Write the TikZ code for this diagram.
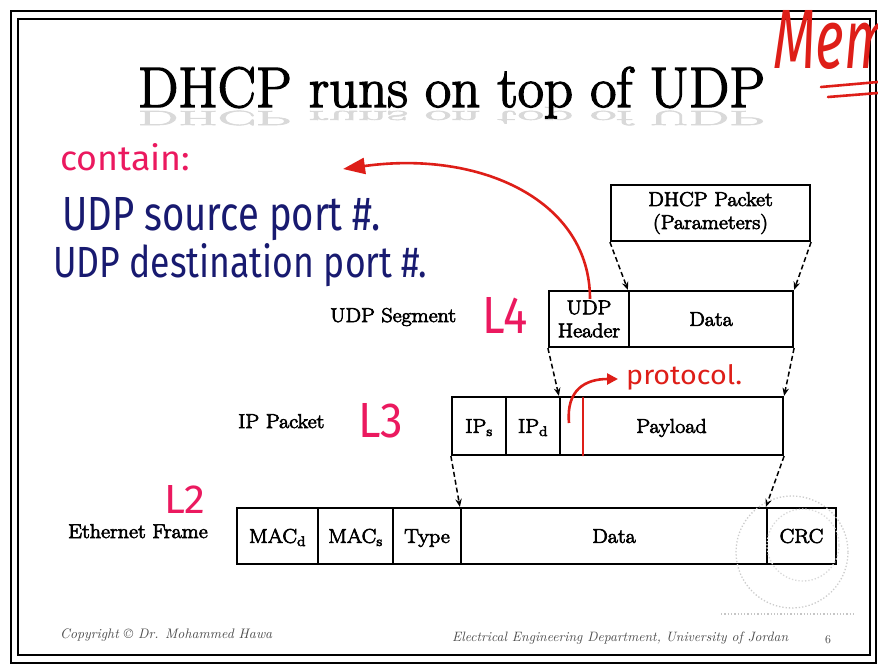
\documentclass[tikz,border=0pt]{standalone}
\usepackage{fontspec}
\newfontfamily\hand{Fira Sans}
\newfontfamily\slide{Latin Modern Roman}[FakeBold=3.5, FakeStretch=1.1]
\newfontfamily\slidetitle{Latin Modern Roman}[FakeBold=2.5]
\usetikzlibrary{arrows.meta,calc}
\definecolor{inkred}{RGB}{222,30,24}
\definecolor{inkpink}{RGB}{235,25,95}
\definecolor{inkblue}{RGB}{24,26,112}
\newcommand\lbl{\slide\fontsize{20}{23}\selectfont}

\begin{document}
\begin{tikzpicture}[x=1pt,y=-1pt,
  cell/.style={draw, line width=2.2pt, inner sep=0pt, text height=13.7pt, text depth=0pt,
               font=\lbl, minimum height=56pt},
  cellmulti/.style={draw, line width=2.2pt, inner sep=0pt, align=center, font=\lbl,
               minimum height=56pt},
  rowname/.style={anchor=base west, inner sep=0pt, font=\lbl},
  wrapto/.style={line width=1.5pt, dash pattern=on 5pt off 3pt,
               -{Stealth[length=8pt,width=6.5pt]}},
  handnote/.style={anchor=base west, inner sep=0pt},
  redpen/.style={inkred, line width=2.6pt, line cap=round},
]
\useasboundingbox (0,0) rectangle (878,667);
\fill[white] (0,0) rectangle (878,667);

% slide frame (double rule)
\draw[line width=2.6pt] (11,11) rectangle (876,663);
\draw[line width=1.6pt] (18,19) rectangle (870,655);

% title and its faint mirrored show-through
\node[anchor=base, inner sep=0pt, gray!30, yscale=-0.36, transform shape] at (451.5,111)
  {\resizebox{627pt}{!}{\slidetitle\fontsize{52}{60}\selectfont DHCP runs on top of UDP}};
\node[anchor=base, inner sep=0pt] (title) at (451.5,107)
  {\resizebox{627pt}{!}{\slidetitle\fontsize{52}{60}\selectfont DHCP runs on top of UDP}};

% DHCP packet
\node[cellmulti, minimum width=199pt] (dhcp) at (710.5,213)
  {\baselineskip=24pt DHCP Packet\\(Parameters)};

% UDP segment
\node[cellmulti, minimum width=80pt] (udph) at (589,319) {\baselineskip=22pt UDP\\Header};
\node[cell, minimum width=164pt] (udpdata) at (711,319) {Data};

% IP packet
\node[cell, minimum width=54pt, minimum height=58pt] (ips) at (479,426) {IP\textsubscript{s}};
\node[cell, minimum width=54pt, minimum height=58pt] (ipd) at (533,426) {IP\textsubscript{d}};
\node[cell, minimum width=223pt, minimum height=58pt] (payload) at (671.5,426) {Payload};

% Ethernet frame
\node[cell, minimum width=81pt] (macd) at (277.5,536) {MAC\textsubscript{d}};
\node[cell, minimum width=75pt] (macs) at (355.5,536) {MAC\textsubscript{s}};
\node[cell, minimum width=68pt] (type) at (427,536) {Type};
\node[cell, minimum width=306pt] (ethdata) at (614,536) {Data};
\node[cell, minimum width=69pt] (crc) at (801.5,536) {CRC};

% row names
\node[rowname] (segname) at (330,322) {UDP Segment};
\node[rowname] (pktname) at (238,428) {IP Packet};
\node[rowname] (framename) at (68,538) {Ethernet Frame};

% encapsulation arrows
\draw[wrapto] (dhcp.south west) -- (udpdata.north west);
\draw[wrapto] (dhcp.south east) -- (udpdata.north east);
\draw[wrapto] (udph.south west) -- (payload.north west);
\draw[wrapto] (udpdata.south east) -- (payload.north east);
\draw[wrapto] (ips.south west) -- (ethdata.north west);
\draw[wrapto] (payload.south east) -- (crc.north west);

% faint dotted logo
\draw[gray!40, line width=1.3pt, dotted] (792,552) circle[radius=56pt];
\draw[gray!30, line width=1.3pt, dotted] (803,545) circle[radius=36pt];
\draw[gray!45, line width=1.3pt, dotted] (721,614) -- (856,614);

% footer
\node[anchor=base west, inner sep=0pt, black!70] (copy) at (60,638)
  {\resizebox{212pt}{!}{\itshape Copyright \textcopyright{} Dr. Mohammed Hawa}};
\node[anchor=base west, inner sep=0pt, black!70] (dept) at (452,641)
  {\resizebox{336pt}{!}{\itshape Electrical Engineering Department, University of Jordan}};
\node[anchor=base, inner sep=0pt, black!75, font=\fontsize{12}{14}\selectfont] (pageno) at (828,643) {6};

% handwritten notes
\node[handnote, inkpink] (contain) at (60,170) {\resizebox{130pt}{27pt}{\hand contain:}};
\node[handnote, inkblue] (srcport) at (62,230) {\resizebox{318pt}{33pt}{\hand UDP source port \#.}};
\node[handnote, inkblue] (dstport) at (53,277) {\resizebox{374pt}{34pt}{\hand UDP destination port \#.}};
\node[handnote, inkpink] (lfour) at (482,333) {\resizebox{45pt}{36pt}{\hand L4}};
\node[handnote, inkpink] (lthree) at (358,437) {\resizebox{45pt}{34pt}{\hand L3}};
\node[handnote, inkpink] (ltwo) at (164,513) {\resizebox{41pt}{28pt}{\hand L2}};
\node[handnote, inkred] (proto) at (626,384) {\resizebox{116pt}{20pt}{\hand protocol.}};
\node[handnote, inkred] (memo) at (773,68) {\resizebox{118pt}{58pt}{\hand\itshape Mem}};
\draw[redpen] (821,87) -- (878,82);
\draw[redpen] (828,97) -- (878,93);

% red pointers
\coordinate (hdrpin) at ($(udph.north)+(1,9)$);
\coordinate (ctip) at (343,169);
\draw[redpen, line cap=butt, -{Triangle[length=22pt,width=16pt]}]
  (hdrpin) .. controls (590,200) and (480,150) .. (ctip);
\coordinate (pstart) at (569,423);
\coordinate (ptip) at (618,379);
\draw[redpen, line cap=butt, -{Triangle[length=11pt,width=11pt]}]
  (pstart) .. controls (566,390) and (585,379) .. (ptip);
\draw[redpen] ($(payload.north west)+(24,2)$) -- ($(payload.south west)+(24,-1)$);
\end{tikzpicture}
\end{document}
